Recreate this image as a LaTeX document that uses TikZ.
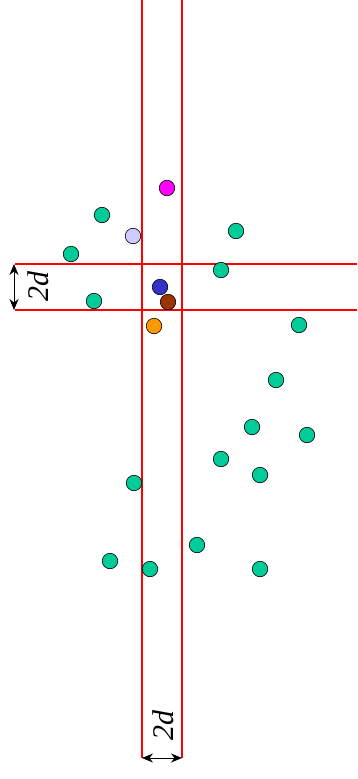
\documentclass[tikz,border=0pt]{standalone}
\usepackage{fontspec}
\setmainfont{Liberation Serif}
\usetikzlibrary{arrows.meta}
\definecolor{teal1}{RGB}{0,204,153}
\definecolor{mag}{RGB}{255,0,255}
\definecolor{lav}{RGB}{204,204,255}
\definecolor{blu}{RGB}{51,51,204}
\definecolor{brn}{RGB}{153,51,0}
\definecolor{org}{RGB}{255,153,0}
\begin{document}
\begin{tikzpicture}[x=1pt,y=-1pt,
  redline/.style={red,line width=1.8pt},
  dot/.style={circle,draw=black,line width=0.6pt,minimum size=15.5pt,inner sep=0pt,fill=#1},
  dimarrow/.style={{Stealth[length=11pt,width=9pt]}-{Stealth[length=11pt,width=9pt]},line width=0.7pt},
  lbl/.style={font=\itshape\fontsize{30}{30}\selectfont,rotate=90,inner sep=0pt}]
\useasboundingbox (0,0) rectangle (357,779);
\coordinate (v1t) at (142,0); \coordinate (v1b) at (142,758);
\coordinate (v2t) at (182,0); \coordinate (v2b) at (182,758);
\coordinate (h1l) at (15,264); \coordinate (h1r) at (357,264);
\coordinate (h2l) at (15,310); \coordinate (h2r) at (357,310);
\draw[redline] (v1t) -- (v1b);
\draw[redline] (v2t) -- (v2b);
\draw[redline] (h1l) -- (h1r);
\draw[redline] (h2l) -- (h2r);
\coordinate (a1) at (142,758); \coordinate (a2) at (182,758);
\draw[dimarrow] (a1) -- (a2);
\coordinate (b1) at (14,264); \coordinate (b2) at (14,310);
\draw[dimarrow] (b1) -- (b2);
\node[lbl] (lb) at (163,725) {2d};
\node[lbl] (ll) at (38,286) {2d};
\node[dot=mag] (c1) at (167,188) {};
\node[dot=teal1] (c2) at (102,215) {};
\node[dot=lav] (c3) at (133,236) {};
\node[dot=teal1] (c4) at (236,231) {};
\node[dot=teal1] (c5) at (71,254) {};
\node[dot=teal1] (c6) at (221,270) {};
\node[dot=blu] (c7) at (160,287) {};
\node[dot=brn] (c8) at (168,302) {};
\node[dot=teal1] (c9) at (94,301) {};
\node[dot=org] (c10) at (154,326) {};
\node[dot=teal1] (c11) at (299,325) {};
\node[dot=teal1] (c12) at (276,380) {};
\node[dot=teal1] (c13) at (252,427) {};
\node[dot=teal1] (c14) at (307,435) {};
\node[dot=teal1] (c15) at (221,459) {};
\node[dot=teal1] (c16) at (260,475) {};
\node[dot=teal1] (c17) at (134,483) {};
\node[dot=teal1] (c18) at (197,545) {};
\node[dot=teal1] (c19) at (110,561) {};
\node[dot=teal1] (c20) at (150,569) {};
\node[dot=teal1] (c21) at (260,569) {};
\end{tikzpicture}
\end{document}
